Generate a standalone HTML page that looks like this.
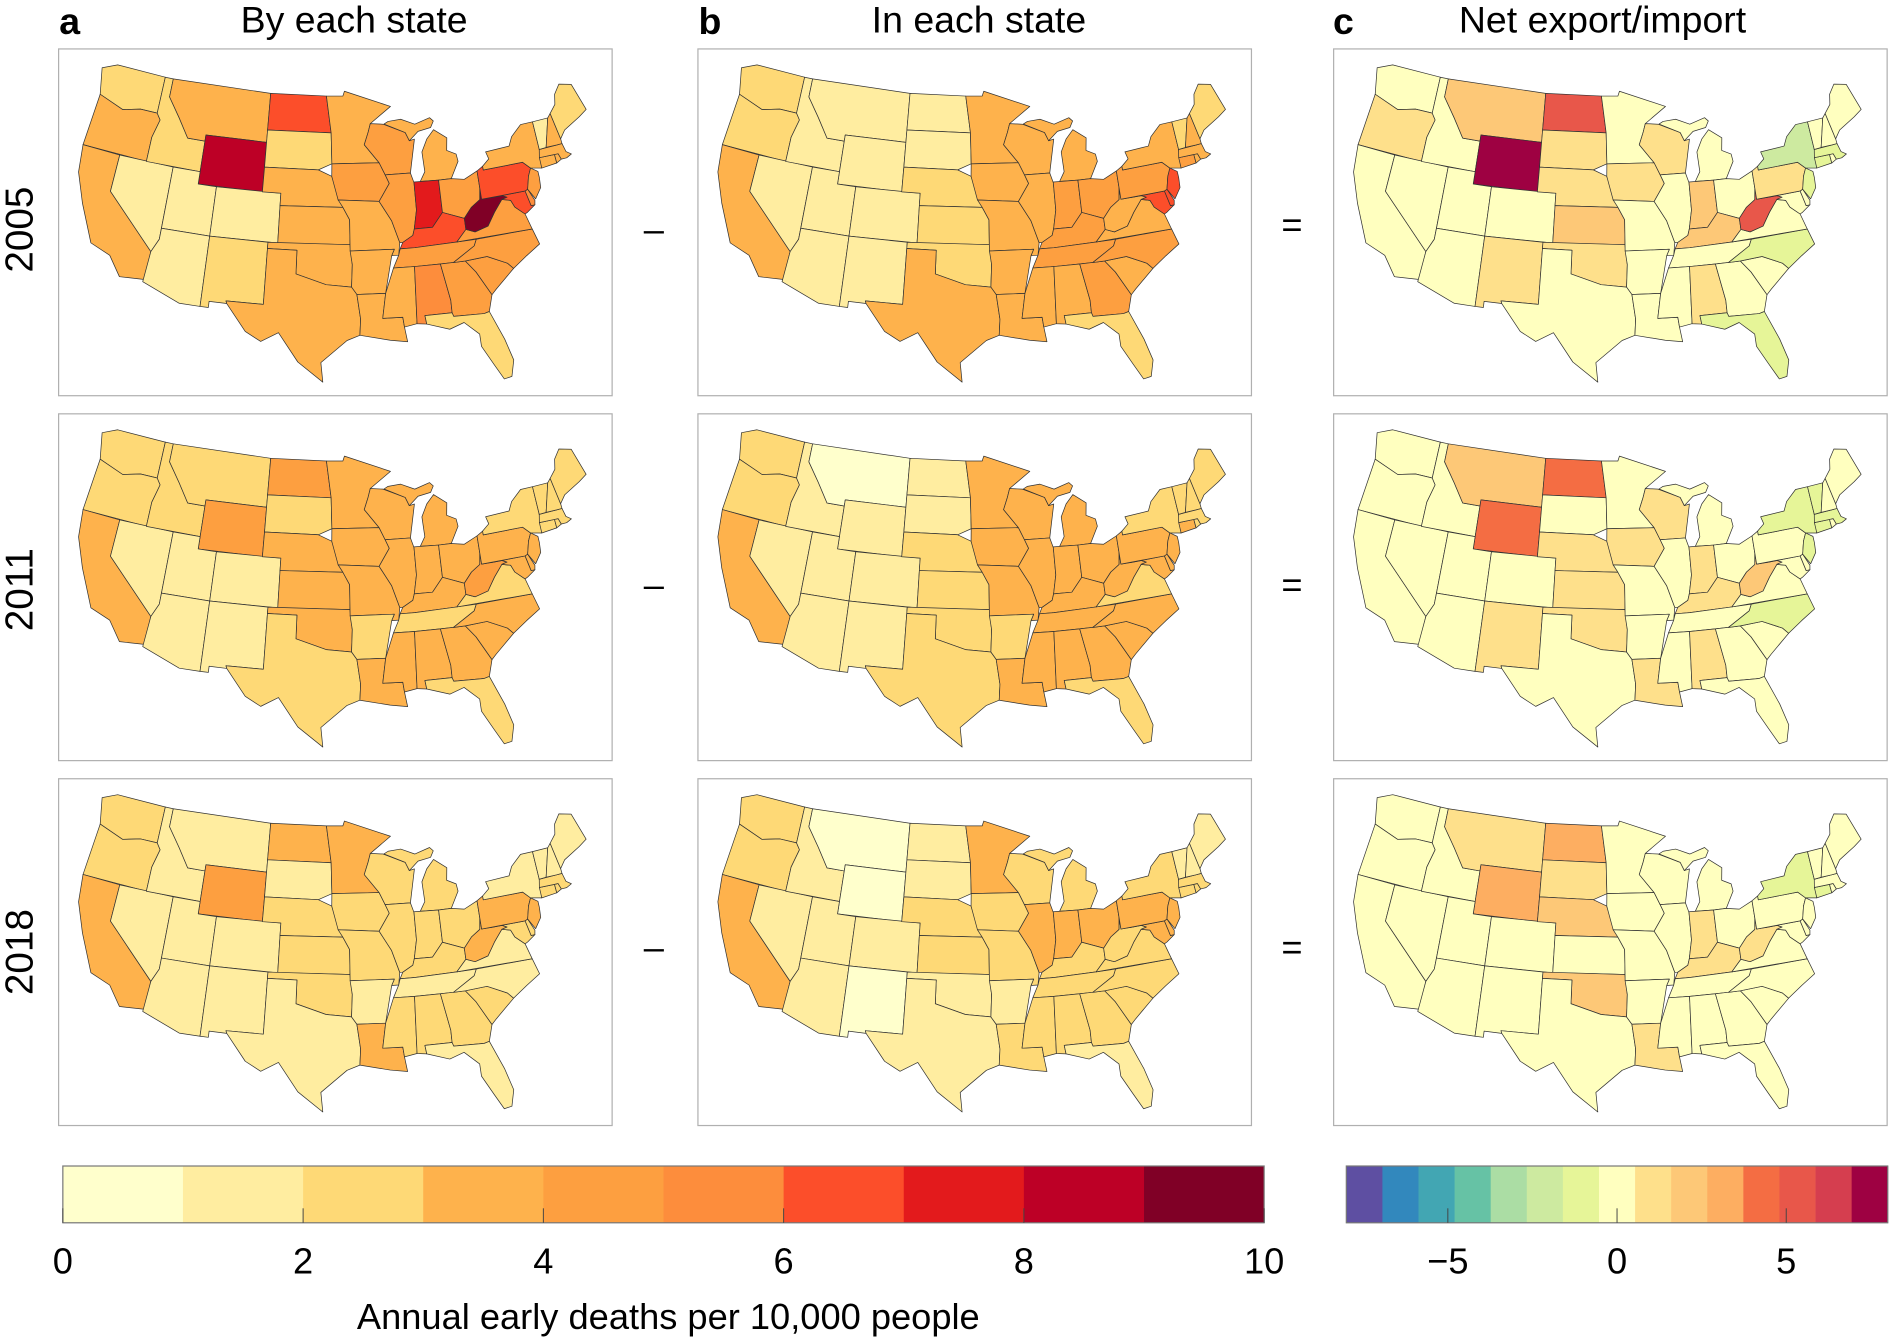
<!DOCTYPE html>
<html><head><meta charset="utf-8"><style>
html,body{margin:0;padding:0;background:#fff;}
svg{display:block;font-family:"Liberation Sans",Arial,sans-serif;}
</style></head><body>
<svg id="fig" width="1895" height="1340" viewBox="0 0 1568 1109" preserveAspectRatio="none" xmlns="http://www.w3.org/2000/svg">
<g id="titles">
<text x="49" y="28" font-size="31" font-weight="bold">a</text>
<text x="293" y="27" font-size="31" text-anchor="middle">By each state</text>
<text x="578" y="28" font-size="31" font-weight="bold">b</text>
<text x="810" y="27" font-size="31" text-anchor="middle">In each state</text>
<text x="1103" y="28" font-size="31" font-weight="bold">c</text>
<text x="1326" y="27" font-size="31" text-anchor="middle">Net export/import</text>
<text transform="translate(27,190) rotate(-90)" font-size="32" text-anchor="middle">2005</text>
<text transform="translate(27,488) rotate(-90)" font-size="32" text-anchor="middle">2011</text>
<text transform="translate(27,788) rotate(-90)" font-size="32" text-anchor="middle">2018</text>
<text x="541" y="200" font-size="30" text-anchor="middle">–</text>
<text x="541" y="494" font-size="30" text-anchor="middle">–</text>
<text x="541" y="794" font-size="30" text-anchor="middle">–</text>
<text x="1069" y="196" font-size="30" text-anchor="middle">=</text>
<text x="1069" y="494" font-size="30" text-anchor="middle">=</text>
<text x="1069" y="794" font-size="30" text-anchor="middle">=</text>
</g>
<g id="maps"></g>
<g id="cbars"></g>
</svg>
<script>
const states = ["WA","OR","CA","NV","ID","MT","WY","UT","AZ","CO","NM","ND","SD","NE","KS","OK","TX","MN","IA","MO","AR","LA","WI","IL","MI","IN","OH","KY","TN","MS","AL","GA","FL","SC","NC","VA","WV","MD","DE","PA","NY","NJ","CT","RI","MA","VT","NH","ME"];
const byState2005 = [2.5,3.5,3.5,1.5,2.5,3.5,8.5,1.5,1.5,1.5,2.5,6.5,2.5,3.5,3.5,3.5,3.5,3.5,4.5,3.5,3.5,3.5,4.5,4.5,3.5,7.5,4.5,6.5,4.5,3.5,5.5,4.5,2.5,4.5,4.5,4.5,9.5,6.5,5.5,6.5,3.5,4.5,3.5,3.5,3.5,1.5,3.5,2.5];
const inState2005 = [2.5,2.5,3.5,1.5,1.5,1.5,1.5,1.5,1.5,1.5,1.5,1.5,1.5,2.5,2.5,2.5,3.5,3.5,3.5,3.5,3.5,3.5,3.5,3.5,3.5,4.5,4.5,4.5,4.5,3.5,3.5,4.5,2.5,3.5,4.5,3.5,3.5,6.5,6.5,4.5,3.5,6.5,4.5,3.5,3.5,2.5,3.5,2.5];
const net2005 = [0.3,1.5,0.3,0.2,0.3,2.5,7.6,0.2,0.2,0.2,1.5,5.5,1.5,1.5,2.5,1.5,0.2,0.3,1.5,0.3,0.3,0.3,1.5,0.3,0.3,2.5,0.3,2.5,0.3,0.3,1.5,0.3,-1.2,0.3,-1.2,-0.3,5.5,0.3,0.3,1.5,-2.0,-1.2,-0.8,0.3,-0.8,0.3,0.3,0.3];
const byState2011 = [2.5,2.5,3.5,1.5,2.5,2.5,4.5,1.5,1.5,1.5,1.5,4.5,2.5,3.5,3.5,3.5,2.5,3.5,3.5,3.5,2.5,3.5,3.5,3.5,3.5,3.5,3.5,3.5,2.5,3.5,3.5,3.5,2.5,3.5,3.5,2.5,4.5,3.5,3.5,3.5,2.5,3.5,2.5,2.5,2.5,2.5,2.5,2.5];
const inState2011 = [2.5,2.5,3.5,1.5,1.5,0.5,1.5,1.5,1.5,1.5,1.5,1.5,1.5,2.5,2.5,2.5,2.5,3.5,3.5,3.5,2.5,3.5,3.5,3.5,3.5,3.5,3.5,3.5,3.5,3.5,3.5,3.5,2.5,3.5,3.5,2.5,3.5,3.5,3.5,3.5,2.5,3.5,3.5,2.5,2.5,2.5,2.5,2.5];
const net2011 = [0.2,0.2,0.2,0.2,0.2,2.0,4.3,0.2,0.2,0.2,1.5,4.3,0.2,1.5,1.5,1.5,0.2,0.2,1.2,0.2,0.2,1.2,1.2,0.2,0.2,1.2,0.2,1.5,0.2,0.2,1.2,0.2,0.2,0.2,-1.2,0.2,2.0,0.2,0.2,0.2,-1.2,-0.8,-0.8,0.2,-0.8,-0.8,0.2,0.2];
const byState2018 = [2.5,2.5,3.5,1.5,1.5,1.5,4.5,1.5,1.5,1.5,1.5,3.5,1.5,2.5,2.5,2.5,1.5,3.5,2.5,2.5,1.5,3.5,2.5,2.5,2.5,2.5,2.5,2.5,1.5,2.5,2.5,2.5,1.5,2.5,1.5,1.5,3.5,2.5,2.5,3.5,1.5,3.5,2.5,2.5,2.5,1.5,1.5,1.5];
const inState2018 = [2.5,2.5,3.5,1.5,1.5,0.5,0.5,1.5,1.5,1.5,0.5,1.5,1.5,2.5,2.5,1.5,1.5,3.5,2.5,2.5,1.5,2.5,2.5,3.5,2.5,3.5,3.5,2.5,2.5,2.5,2.5,2.5,1.5,2.5,2.5,2.5,2.5,3.5,3.5,3.5,2.5,3.5,2.5,2.5,2.5,1.5,1.5,1.5];
const net2018 = [0.2,0.2,0.2,0.2,0.2,1.5,3.2,0.2,0.2,0.2,0.2,3.2,1.2,2.0,0.2,2.0,0.2,0.2,0.2,0.2,0.2,1.5,0.2,0.2,0.2,1.2,0.2,1.5,0.2,0.2,0.2,0.2,0.2,0.2,0.2,0.2,1.2,0.2,0.2,0.2,-1.2,0.2,-0.8,0.2,0.2,0.2,0.2,0.2];
const seqTicks = [0,2,4,6,8,10];
const divTicks = [-5,0,5];
const seqColors = ["#ffffcc","#ffeda0","#fed976","#feb24c","#fd9f40","#fd8d3c","#fc4e2a","#e31a1c","#bd0026","#800026"];
const divColors = ["#5e4fa2","#3288bd","#42a6b3","#66c2a5","#abdda4","#cdeaa0","#e6f598","#ffffbf","#fee08b","#fdc877","#fdae61","#f46d43","#e8574a","#d53e4f","#9e0142"];

const geo = {
WA:[[-124.7,48.4],[-123,49],[-117,49],[-117,46],[-119,46],[-121,45.6],[-124,46.3]],
OR:[[-124,46.3],[-121,45.6],[-119,46],[-117,46],[-116.5,45.5],[-117,44],[-117,42],[-124.2,42]],
CA:[[-124.2,42],[-120,42],[-120,39],[-114.6,35],[-114.7,32.7],[-117.1,32.5],[-118.5,34],[-120.6,34.6],[-122.5,37.5],[-123.8,39.8]],
NV:[[-120,42],[-114,42],[-114,36.1],[-114.6,35],[-120,39]],
ID:[[-117,49],[-116,49],[-116,47.5],[-114.4,46],[-113,44.5],[-111,44.5],[-111,42],[-117,42],[-117,44],[-116.5,45.5],[-117,46]],
MT:[[-116,49],[-104,49],[-104,45],[-111,45],[-111,44.5],[-113,44.5],[-114.4,46],[-116,47.5]],
WY:[[-111,45],[-104,45],[-104,41],[-111,41]],
UT:[[-114,42],[-111,42],[-111,41],[-109,41],[-109,37],[-114,37]],
AZ:[[-114,37],[-109,37],[-109,31.3],[-111,31.3],[-114.8,32.5],[-114.6,35],[-114,36.1]],
CO:[[-109,41],[-102,41],[-102,37],[-109,37]],
NM:[[-109,37],[-103,37],[-103,32],[-106.6,32],[-106.5,31.8],[-108.2,31.8],[-108.2,31.3],[-109,31.3]],
ND:[[-104,49],[-97.2,49],[-96.6,46],[-104,46]],
SD:[[-104,46],[-96.6,46],[-96.5,43.5],[-98,43],[-104,43]],
NE:[[-104,43],[-98,43],[-96.5,42.5],[-95.3,40],[-102,40],[-102,41],[-104,41]],
KS:[[-102,40],[-95.3,40],[-94.6,39],[-94.6,37],[-102,37]],
OK:[[-103,37],[-94.6,37],[-94.4,35.4],[-94.5,33.6],[-97,33.8],[-100,34.6],[-100,36.5],[-103,36.5]],
TX:[[-103,36.5],[-100,36.5],[-100,34.6],[-97,33.8],[-94.5,33.6],[-94,33],[-93.7,31],[-93.8,29.7],[-95,29.3],[-97.4,27.5],[-97.2,25.9],[-99.5,27.5],[-101.4,29.8],[-103,29],[-104.5,29.7],[-106.5,31.8],[-106.6,32],[-103,32]],
MN:[[-97.2,49],[-95.2,49],[-95,49.4],[-89.5,48],[-92,46.7],[-92.3,46],[-92.8,45],[-91.2,43.5],[-96.5,43.5],[-96.6,46]],
IA:[[-96.5,43.5],[-91.2,43.5],[-90.6,42.5],[-90.2,41.8],[-91.4,40.4],[-95.8,40.6],[-96.5,42.5]],
MO:[[-95.8,40.6],[-91.4,40.4],[-90.2,38.8],[-89.5,37],[-89.7,36],[-90.4,36],[-90.1,36.5],[-94.6,36.5],[-94.6,39],[-95.3,40]],
AR:[[-94.6,36.5],[-90.1,36.5],[-90.4,36],[-91.2,33],[-94,33],[-94.5,33.6],[-94.4,35.4]],
LA:[[-94,33],[-91.2,33],[-91.6,31],[-89.7,31],[-89.6,30.2],[-89.4,29],[-91,29.2],[-93.8,29.7],[-93.7,31]],
WI:[[-92,46.7],[-90.5,46.6],[-88,45.8],[-87.6,45.1],[-87,45.2],[-87.8,42.5],[-90.6,42.5],[-91.2,43.5],[-92.8,45],[-92.3,46]],
IL:[[-90.6,42.5],[-87.8,42.5],[-87.5,41.7],[-87.5,39.5],[-87.9,38],[-88.1,37.5],[-89.2,37],[-89.5,37],[-90.2,38.8],[-91.4,40.4],[-90.2,41.8]],
MI:[[-86.8,41.76],[-84.8,41.7],[-83.4,41.7],[-82.4,43],[-82.5,43.6],[-83.5,44],[-83.3,45],[-84.7,45.8],[-85.6,45.1],[-86.3,44.1],[-86.2,42.5]],
MI2:[[-90.4,46.6],[-88,45.8],[-87.6,45.1],[-86.5,45.8],[-85,46],[-84.6,46.5],[-85,46.8],[-86.8,46.4],[-88.4,46.9],[-89.9,46.8]],
IN:[[-87.5,41.76],[-84.8,41.7],[-84.8,39.1],[-86,38],[-87.9,38],[-87.5,39.5]],
OH:[[-84.8,41.7],[-83.4,41.7],[-82,41.5],[-80.5,42],[-80.5,40.6],[-80.7,39.7],[-81.7,39.2],[-82.6,38.4],[-84.8,39.1]],
KY:[[-89.5,36.5],[-88,36.5],[-83.7,36.6],[-82.6,37.5],[-82.6,38.4],[-84.8,39.1],[-86,38],[-87.9,38],[-88.1,37.5],[-89.2,37]],
TN:[[-90.3,35],[-88.2,35],[-84.3,35],[-82,36.1],[-81.7,36.6],[-83.7,36.6],[-88,36.5],[-89.5,36.5],[-89.7,36]],
MS:[[-91.2,33],[-90.3,35],[-88.2,35],[-88.4,30.4],[-89.6,30.2],[-89.7,31],[-91.6,31]],
AL:[[-88.2,35],[-85.6,35],[-85,32],[-85,31],[-87.6,31],[-87.5,30.3],[-88.4,30.4]],
GA:[[-85.6,35],[-83.1,35],[-82.2,34],[-81,32],[-81.5,30.7],[-82,30.6],[-84.9,30.7],[-85,31],[-85,32]],
FL:[[-87.6,31],[-85,31],[-84.9,30.7],[-82,30.6],[-81.5,30.7],[-80.5,28.3],[-80,26.5],[-80.4,25.2],[-81.1,25.1],[-81.8,26.4],[-82.7,28],[-82.7,29],[-84,30.1],[-85.4,29.7],[-87.5,30.3]],
SC:[[-83.1,35],[-80.9,35.1],[-79,34.3],[-78.5,33.8],[-80.5,32.4],[-81,32],[-82.2,34]],
NC:[[-84.3,35],[-83.1,35],[-80.9,35.1],[-79,34.3],[-78.5,33.8],[-77,34.6],[-75.5,35.3],[-75.9,36.6],[-81.7,36.6],[-82,36.1]],
VA:[[-83.7,36.6],[-75.9,36.6],[-76.3,37.9],[-77.2,38.6],[-77.5,39.2],[-78.4,39.4],[-79.4,38.5],[-80.3,37.5],[-81.7,37.2],[-82.6,37.5]],
WV:[[-82.6,38.4],[-82.6,37.5],[-81.7,37.2],[-80.3,37.5],[-79.4,38.5],[-78.4,39.4],[-77.8,39.5],[-78.3,39.7],[-79.5,39.7],[-80.5,39.7],[-80.5,40.6],[-80.7,39.7],[-81.7,39.2]],
MD:[[-79.5,39.7],[-75.8,39.7],[-75.5,38.45],[-75.1,38.45],[-76,38],[-76.3,37.9],[-77.2,38.6],[-77.5,39.2],[-78.4,39.4],[-77.8,39.5],[-78.3,39.7]],
DE:[[-75.8,39.7],[-75.5,39.8],[-75,38.8],[-75.1,38.45],[-75.5,38.45]],
PA:[[-80.5,42],[-79.8,42.3],[-79.8,42],[-75.4,42],[-74.7,41.4],[-75.1,40.8],[-75.5,39.8],[-75.8,39.7],[-80.5,39.7]],
NY:[[-79.8,42],[-79.8,42.3],[-79,42.8],[-79.2,43.4],[-76.5,43.5],[-76,44.2],[-74.7,45],[-73.3,45],[-73.3,42.7],[-73.5,41.2],[-74.7,41.4],[-75.4,42]],
NJ:[[-75.5,39.8],[-75.1,40.8],[-74.7,41.4],[-74,41],[-74,40.5],[-74.1,39.7],[-74.9,38.9]],
CT:[[-73.5,41.2],[-73.5,42.05],[-71.8,42],[-71.8,41.3]],
RI:[[-71.8,42],[-71.4,42],[-71.2,41.5],[-71.8,41.3]],
MA:[[-73.5,42.05],[-73.3,42.7],[-71.3,42.7],[-70.7,42.7],[-70.5,42],[-70,41.7],[-70.6,41.5],[-71.2,41.5],[-71.4,42],[-71.8,42]],
VT:[[-73.3,42.7],[-73.3,45],[-71.5,45],[-72.5,42.73]],
NH:[[-72.5,42.73],[-71.5,45],[-71.1,45.3],[-70.7,43.1],[-70.7,42.7],[-71.3,42.7]],
ME:[[-71.1,45.3],[-70.7,43.1],[-70,43.7],[-68,44.4],[-67,44.8],[-67.8,47.1],[-69.2,47.4],[-70,46.7],[-70.3,45.9]]
};

const R = Math.PI/180, p1=29.5*R, p2=45.5*R, lat0=37.5*R, lon0=-96*R;
const n=(Math.sin(p1)+Math.sin(p2))/2, C=Math.cos(p1)**2+2*n*Math.sin(p1);
const rho0=Math.sqrt(C-2*n*Math.sin(lat0))/n;
function proj(lo,la){const rho=Math.sqrt(C-2*n*Math.sin(la*R))/n;const th=n*(lo*R-lon0);return [rho*Math.sin(th), -(rho0-rho*Math.cos(th))];}
let minx=1e9,maxx=-1e9,miny=1e9,maxy=-1e9;
const P={};
for(const k in geo){P[k]=geo[k].map(p=>proj(p[0],p[1]));P[k].forEach(([x,y])=>{minx=Math.min(minx,x);maxx=Math.max(maxx,x);miny=Math.min(miny,y);maxy=Math.max(maxy,y);});}

const NS='http://www.w3.org/2000/svg';
function mk(tag,attrs,parent){const e=document.createElementNS(NS,tag);for(const a in attrs)e.setAttribute(a,attrs[a]);parent.appendChild(e);return e;}
function seqColor(v){let i=Math.floor(v);i=Math.max(0,Math.min(9,i));return seqColors[i];}
function divColor(v){let i=Math.floor((v+8)/(16/15));i=Math.max(0,Math.min(14,i));return divColors[i];}

const colX=[48,577,1103], rowY=[40,342,644], PW=458, PH=287;
const years=["2005","2011","2018"], cols=["by-state","in-state","net"];
const data=[[byState2005,inState2005,net2005],[byState2011,inState2011,net2011],[byState2018,inState2018,net2018]];
const maps=document.getElementById('maps');
for(let r=0;r<3;r++)for(let c=0;c<3;c++){
  const g=mk('g',{},maps);
  
  
  const box=mk('rect',{x:colX[c]+0.5,y:rowY[r]+0.5,width:PW,height:PH,fill:'#fff',stroke:'#b0b0b0','stroke-width':1},g);
  
  
  const mx0=colX[c]+17, my0=rowY[r]+12, mw=420, mh=266;
  const s=Math.min(mw/(maxx-minx), mh/(maxy-miny));
  const ox=mx0+(mw-s*(maxx-minx))/2, oy=my0+(mh-s*(maxy-miny))/2;
  const vals=data[r][c];
  for(const k in P){
    const idx=states.indexOf(k==='MI2'?'MI':k);
    const v=vals[idx];
    const col=c===2?divColor(v):seqColor(v);
    const d='M'+P[k].map(([x,y])=>(ox+(x-minx)*s).toFixed(1)+','+(oy+(y-miny)*s).toFixed(1)).join('L')+'Z';
    const path=mk('path',{d:d,fill:col,stroke:'#333','stroke-width':0.6,'stroke-linejoin':'round'},g);
    
    
  }
}

const cb=document.getElementById('cbars');
{
  const x0=52,x1=1046,y0=965,h=47;
  const g=mk('g',{},cb);
  
  
  const sx=v=>x0+(v-0)/10*(x1-x0);
  seqColors.forEach((col,i)=>{const r=mk('rect',{x:sx(i),y:y0,width:sx(i+1)-sx(i)+0.3,height:h,fill:col},g);
    
    });
  mk('rect',{x:x0,y:y0,width:x1-x0,height:h,fill:'none',stroke:'#777','stroke-width':1},g);
  seqTicks.forEach(t=>{
    mk('line',{x1:sx(t),x2:sx(t),y1:y0+h-12,y2:y0+h,stroke:'#444','stroke-width':0.8},g);
    const tx=mk('text',{x:sx(t),y:1054,'font-size':30,'text-anchor':'middle'},g);tx.textContent=t;
    
    
  });
  const lb=mk('text',{x:553,y:1100,'font-size':30,'text-anchor':'middle'},g);lb.textContent='Annual early deaths per 10,000 people';
  
  
}
{
  const y0=965,h=47;
  const ux=(1480-1200)/10;
  const sx=v=>1338+v*ux;
  const g=mk('g',{},cb);
  
  
  divColors.forEach((col,i)=>{const a=-8+i*16/15,b=-8+(i+1)*16/15;
    const r=mk('rect',{x:sx(a),y:y0,width:sx(b)-sx(a)+0.3,height:h,fill:col},g);
    
    });
  mk('rect',{x:sx(-8),y:y0,width:sx(8)-sx(-8),height:h,fill:'none',stroke:'#777','stroke-width':1},g);
  divTicks.forEach(t=>{
    mk('line',{x1:sx(t),x2:sx(t),y1:y0+h-12,y2:y0+h,stroke:'#444','stroke-width':0.8},g);
    const tx=mk('text',{x:sx(t),y:1054,'font-size':30,'text-anchor':'middle'},g);tx.textContent=t<0?'−'+(-t):String(t);
    
    
  });
}
</script>
</body></html>
